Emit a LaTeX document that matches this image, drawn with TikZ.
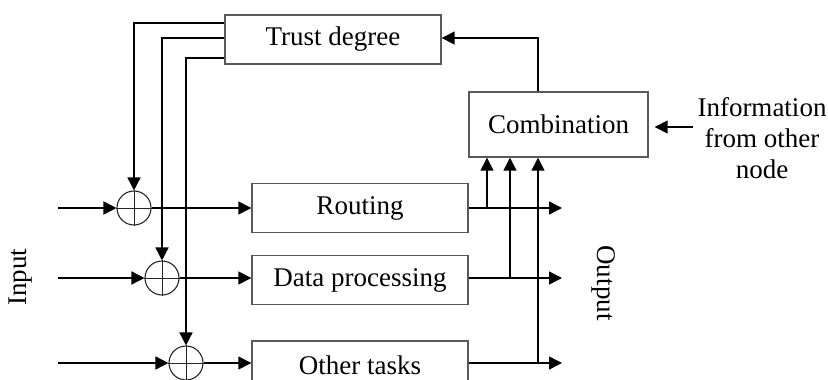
\documentclass[tikz,border=0pt]{standalone}
\usepackage{fontspec}
\setmainfont{Liberation Serif}
\usetikzlibrary{arrows.meta,calc}
\begin{document}
\begin{tikzpicture}[x=1pt,y=-1pt,
  blk/.style={draw=black!65,line width=1.4pt,minimum width=216pt,minimum height=49pt,inner sep=0pt,font=\fontsize{27}{32}\selectfont},
  sumc/.style={circle,draw=black!85,line width=1.1pt,minimum size=34pt,inner sep=0pt},
  arr/.style={line width=1.5pt,-{Triangle[length=13pt,width=13pt]}},
  ln/.style={line width=1.5pt},
  crossln/.style={line width=1pt,draw=black!85},
  lbl/.style={font=\fontsize{27}{31}\selectfont,align=center}]
\useasboundingbox (0,0) rectangle (828,380);
\clip (0,0) rectangle (828,380);

% blocks
\node[blk] (trust) at (333,39.5) {Trust degree};
\node[blk] (routing) at (360,208) {Routing};
\node[blk] (dataproc) at (360,280) {Data processing};
\node[blk] (other) at (360,365.5) {Other tasks};
\node[blk,minimum width=179pt,minimum height=65pt] (comb) at (558.5,124.5) {Combination};

% summing junctions
\node[sumc] (s1) at (134,208) {};
\node[sumc] (s2) at (162,278) {};
\node[sumc] (s3) at (186,363) {};
\foreach \s in {s1,s2,s3}{
  \draw[crossln] (\s.north) -- (\s.south) (\s.west) -- (\s.east);
}

% trust degree feedback to junctions
\draw[arr] ($(trust.west)+(0,-16.5)$) -| (s1.north);
\draw[arr] ($(trust.west)+(0,-1.5)$) -| (s2.north);
\draw[arr] ($(trust.west)+(0,18.5)$) -| (s3.north);

% inputs
\coordinate (in1) at (58,208);
\coordinate (in2) at (58,278);
\coordinate (in3) at (58,363);
\draw[arr] (in1) -- (s1.west);
\draw[arr] (in2) -- (s2.west);
\draw[arr] (in3) -- (s3.west);

% junction to blocks
\draw[arr] (s1.east) -- (routing.west);
\draw[arr] (s2.east) -- (s2.east -| dataproc.west);
\draw[arr] (s3.east) -- (s3.east -| other.west);

% outputs
\coordinate (o1) at (562,208);
\coordinate (o2) at (562,278);
\coordinate (o3) at (562,363);
\draw[arr] (routing.east) -- (o1);
\draw[arr] (o2 -| dataproc.east) -- (o2);
\draw[arr] (o3 -| other.east) -- (o3);

% taps to combination
\coordinate (c1) at (487,208);
\coordinate (c2) at (510,278);
\coordinate (c3) at (538,363);
\draw[arr] (c1) -- (c1 |- comb.south);
\draw[arr] (c2) -- (c2 |- comb.south);
\draw[arr] (c3) -- (c3 |- comb.south);

% combination to trust degree
\draw[arr] (c3 |- comb.north) |- ($(trust.east)+(0,-1.5)$);

% information from other node
\node[lbl] (info) at (762,138) {Information\\from other\\node};
\coordinate (infoin) at (693,127);
\draw[arr,shorten >=6pt] (infoin) -- (infoin -| comb.east);

% side labels
\node[lbl,rotate=90] (inp) at (21,277) {Input};
\node[lbl,rotate=-90] (outp) at (604,283) {Output};
\end{tikzpicture}
\end{document}
